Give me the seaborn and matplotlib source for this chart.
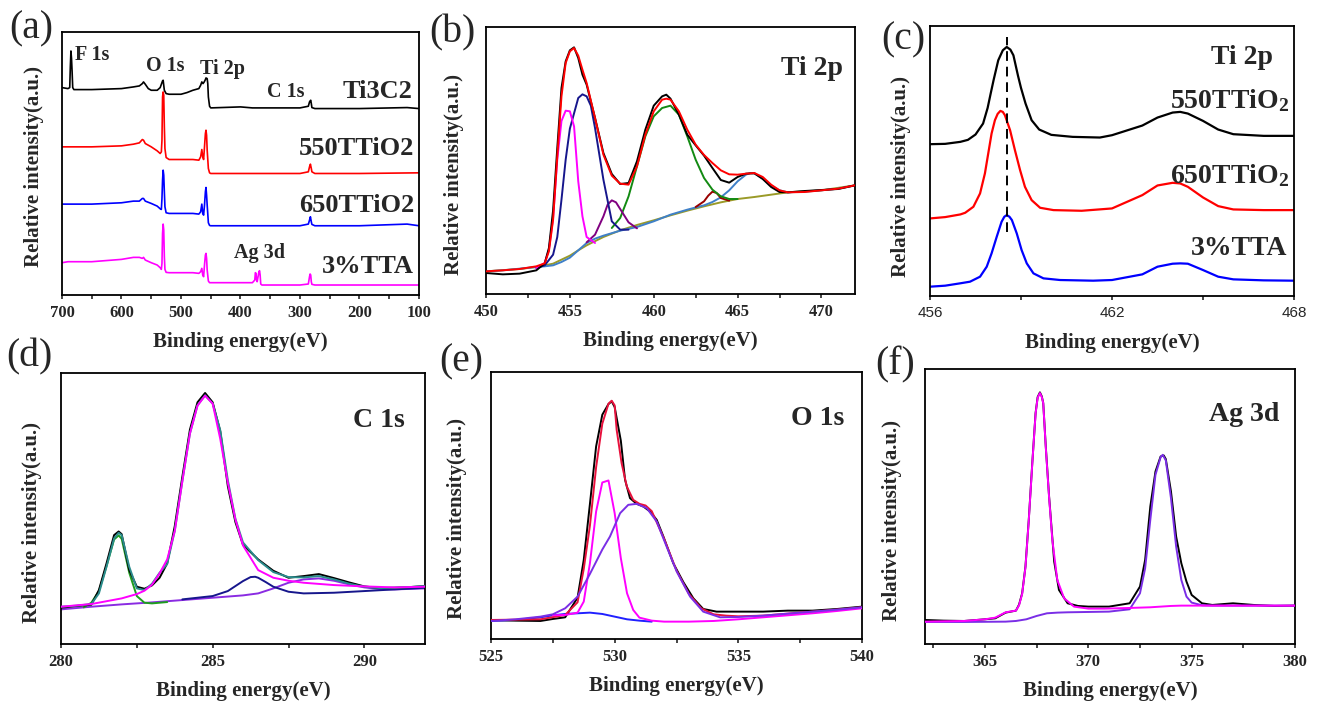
import matplotlib
matplotlib.use("Agg")
import matplotlib.pyplot as plt
import seaborn as sns

# ---------------- (a) survey spectra ----------------
A_X_TI3C2 = [700, 690, 687, 686, 685, 684, 683, 682, 680, 650, 600, 580, 570, 565, 563, 560, 555, 550, 540, 535,
             531, 530, 528, 525, 520, 500, 490, 480, 470, 467, 465, 463, 461, 459, 458, 456, 455, 454, 452, 450,
             400, 380, 300, 286, 284, 282, 281, 280, 275, 200, 120, 100]
A_Y_TI3C2 = [623, 620, 623, 685, 733, 710, 670, 623, 617, 617, 620, 625, 628, 635, 640, 633, 620, 615, 615, 623,
             643, 645, 615, 605, 603, 603, 608, 615, 620, 630, 640, 635, 640, 647, 652, 650, 635, 595, 567, 562,
             565, 562, 562, 567, 580, 585, 575, 563, 560, 560, 563, 560]
A_X_550 = [700, 650, 600, 580, 570, 565, 563, 560, 550, 540, 535, 533, 532, 531, 530, 529, 528, 527, 525, 520,
           500, 480, 470, 467, 465, 463.5, 462, 460.5, 459, 458, 457, 456, 454, 452, 450, 400, 300, 286, 284, 282.5,
           281, 280, 275, 200, 100]
A_Y_550 = [445, 445, 448, 453, 457, 467, 465, 455, 445, 433, 425, 430, 465, 595, 610, 600, 505, 440, 413, 407,
           407, 407, 405, 415, 437, 415, 407, 445, 485, 495, 480, 435, 380, 367, 365, 365, 365, 370, 385, 393,
           380, 370, 365, 365, 367]
A_X_650 = [700, 650, 600, 580, 570, 565, 563, 560, 550, 540, 535, 533, 532, 531, 530, 529, 528, 527, 525, 520,
           500, 480, 470, 467, 465, 463.5, 462, 460.5, 459, 458, 457, 456, 454, 452, 450, 400, 300, 286, 284, 282.5,
           281, 280, 275, 200, 120, 100]
A_Y_650 = [273, 273, 277, 282, 282, 290, 290, 282, 275, 267, 259, 257, 290, 345, 375, 360, 310, 265, 247, 245,
           245, 245, 243, 250, 273, 245, 240, 270, 310, 323, 300, 270, 217, 209, 208, 208, 208, 213, 225, 235,
           220, 212, 208, 208, 213, 208]
A_X_TTA = [700, 690, 650, 600, 580, 570, 565, 563, 560, 550, 540, 535, 533, 532, 531, 530, 529, 528, 527, 525,
           520, 500, 480, 470, 467, 465, 463.5, 462, 460.5, 459, 458, 457, 456, 454, 452, 450, 400, 380, 376, 375,
           374, 373, 372, 370, 369, 368, 367, 366, 364, 360, 300, 286, 284, 283, 282, 281, 280, 275, 200, 100]
A_Y_TTA = [97, 100, 100, 107, 113, 113, 110, 113, 105, 97, 90, 82, 77, 95, 185, 213, 195, 115, 77, 68,
           67, 67, 67, 65, 70, 80, 60, 55, 90, 120, 125, 110, 75, 42, 37, 37, 37, 37, 45, 67,
           65, 45, 40, 60, 70, 73, 60, 33, 30, 30, 30, 33, 55, 63, 60, 40, 32, 30, 30, 30]
A_TICKS = [700, 600, 500, 400, 300, 200, 100]
A_MINOR = [650, 550, 450, 350, 250, 150]
A_SAMPLES = ["Ti3C2", "550TTiO2", "650TTiO2", "3%TTA"]
A_PEAKS = ["F 1s", "O 1s", "Ti 2p", "C 1s", "Ag 3d"]

# ---------------- (b) Ti 2p fit ----------------
B_X = [450, 451, 452, 453, 453.5, 453.75, 454, 454.25, 454.5, 454.75, 455, 455.25, 455.5, 455.75, 456, 456.5,
       457, 457.5, 458, 458.5, 459, 459.5, 460, 460.5, 460.75, 461, 461.5, 462, 462.5, 463, 463.5, 464, 464.5,
       465, 465.5, 466, 466.5, 467, 467.5, 468, 469, 470, 471, 472]
B_RAW = [63, 59, 61, 71, 92, 138, 251, 438, 618, 698, 731, 740, 708, 658, 628, 528,
         423, 360, 330, 333, 398, 493, 565, 593, 598, 586, 538, 478, 446, 415, 378, 342, 334,
         351, 361, 362, 345, 321, 306, 305, 309, 312, 315, 326]
B_ENV = [68, 71, 75, 83, 92, 128, 223, 413, 593, 693, 728, 738, 715, 673, 633, 528,
         418, 355, 331, 328, 383, 478, 548, 583, 586, 583, 548, 493, 448, 417, 393, 371, 359,
         358, 361, 363, 351, 328, 311, 305, 306, 311, 316, 326]
B_X_MAG = [453, 453.5, 453.75, 454, 454.25, 454.5, 454.75, 455, 455.25, 455.5, 455.75, 456, 456.5]
B_Y_MAG = [78, 93, 133, 228, 404, 519, 550, 548, 503, 338, 233, 171, 153]
B_X_NAVY = [453, 453.5, 454, 454.25, 454.5, 454.75, 455, 455.5, 455.75, 456, 456.25, 456.5, 457, 457.5, 458, 458.5]
B_Y_NAVY = [78, 86, 118, 171, 283, 403, 496, 588, 599, 593, 565, 498, 343, 218, 193, 193]
B_X_PUR = [456, 456.5, 457, 457.25, 457.5, 457.75, 458, 458.5, 459]
B_Y_PUR = [155, 178, 233, 268, 281, 275, 255, 215, 197]
B_X_GRN = [457.5, 458, 458.5, 459, 459.5, 460, 460.5, 461, 461.5, 462, 462.5, 463, 463.5, 464, 464.5, 465]
B_Y_GRN = [198, 228, 293, 383, 473, 533, 558, 565, 538, 473, 403, 348, 313, 293, 285, 285]
B_X_DRED = [462.5, 463, 463.25, 463.5, 463.75, 464, 464.5]
B_Y_DRED = [261, 278, 295, 307, 303, 288, 280]
B_X_SB = [450, 451, 452, 453, 453.5, 454, 454.5, 455, 455.5, 456, 456.5, 457, 458, 459, 460, 461, 462, 463, 463.5,
          464, 464.5, 465, 465.5, 465.75, 466, 466.5, 467, 467.5, 468, 469, 470, 471, 472]
B_Y_SB = [68, 71, 76, 81, 83, 86, 96, 109, 131, 153, 166, 175, 190, 201, 218, 238, 253, 266, 276,
          290, 311, 338, 358, 363, 362, 346, 325, 311, 305, 307, 311, 316, 326]
B_X_BG = [450, 452, 453, 454, 454.5, 455, 455.5, 456, 457, 458, 459, 460, 461, 462, 463, 464, 465, 466, 467, 468,
          470, 472]
B_Y_BG = [68, 75, 81, 91, 103, 115, 131, 146, 171, 191, 207, 221, 236, 250, 263, 275, 285, 291, 298, 305,
          311, 326]
B_TICKS = [450, 455, 460, 465, 470]
B_MINOR = [452.5, 457.5, 462.5, 467.5]

# ---------------- (c) Ti 2p comparison ----------------
C_X_550 = [456, 456.5, 457, 457.25, 457.5, 457.75, 457.9, 458, 458.1, 458.25, 458.4, 458.53, 458.65, 458.75,
           458.9, 459, 459.15, 459.35, 459.6, 460, 460.7, 461.6, 462, 463, 463.5, 464, 464.25, 464.5, 465,
           465.5, 466, 467, 468]
C_Y_550 = [456, 457, 463, 469, 485, 518, 565, 608, 650, 708, 738, 748, 740, 723,
           662, 625, 578, 528, 500, 484, 478, 476, 483, 512, 536, 551, 553, 548, 526,
           500, 486, 481, 481]
C_X_650 = [456, 456.5, 457, 457.16, 457.43, 457.65, 457.81, 457.92, 458.03, 458.14, 458.23, 458.32, 458.4, 458.47,
           458.64, 458.8, 458.97, 459.13, 459.35, 459.63, 460.07, 461, 462, 463, 463.5, 464, 464.25, 464.5, 465,
           465.5, 466, 467, 468]
C_Y_650 = [233, 237, 245, 250, 268, 308, 368, 428, 488, 528, 547, 556, 553, 543,
           498, 438, 378, 328, 288, 265, 258, 256, 263, 303, 332, 340, 338, 328, 296,
           270, 260, 258, 258]
C_X_TTA = [456, 456.5, 456.99, 457.32, 457.65, 457.87, 458.03, 458.2, 458.36, 458.45, 458.53, 458.62, 458.7,
           458.86, 459.02, 459.19, 459.41, 459.74, 460.29, 461.38, 462, 463, 463.5, 464, 464.25, 464.5, 465,
           465.5, 466, 467, 468]
C_Y_TTA = [28, 31, 38, 43, 58, 88, 128, 178, 223, 238, 243, 238, 228,
           188, 138, 98, 68, 53, 48, 46, 48, 65, 88, 97, 98, 97, 78,
           58, 50, 47, 46]
C_DASH_X = [458.55, 458.55]
C_DASH_Y = [193, 778]
C_TICKS = [456, 462, 468]
C_MINOR = [459, 465]

# ---------------- (d) C 1s ----------------
D_X = [280, 280.5, 281, 281.25, 281.5, 281.75, 281.9, 282, 282.25, 282.5, 282.75, 283, 283.25, 283.5, 283.75, 284,
       284.25, 284.5, 284.75, 285, 285.25, 285.5, 285.75, 286, 286.5, 287, 287.5, 288, 288.5, 289, 289.5, 290,
       290.5, 291, 291.5, 292]
D_RAW = [109, 114, 118, 162, 242, 327, 338, 330, 222, 172, 166, 176, 199, 242, 354, 502,
         644, 726, 754, 726, 639, 474, 366, 298, 254, 220, 199, 204, 210, 198, 185, 173,
         168, 169, 171, 174]
D_ENV = [112, 115, 120, 152, 232, 317, 334, 327, 232, 167, 162, 181, 214, 240, 340, 489,
         632, 717, 747, 722, 642, 492, 376, 305, 252, 216, 201, 200, 204, 194, 181, 172,
         168, 169, 171, 174]
D_X_MAG = [280, 281, 282, 282.5, 282.75, 283, 283.25, 283.5, 283.75, 284, 284.25, 284.5, 284.75, 285, 285.25,
           285.5, 285.75, 286, 286.5, 287, 287.5, 288, 289, 290, 291, 292]
D_Y_MAG = [112, 120, 137, 150, 160, 178, 212, 254, 339, 489, 632, 716, 746, 722, 616,
           484, 374, 296, 222, 199, 190, 184, 177, 173, 170, 172]
D_X_GRN = [280.75, 281, 281.25, 281.5, 281.75, 281.9, 282, 282.25, 282.5, 282.75, 283, 283.5]
D_Y_GRN = [110, 124, 159, 234, 314, 326, 316, 214, 144, 124, 122, 126]
D_X_NAVY = [284, 285, 285.5, 285.75, 286, 286.25, 286.4, 286.5, 286.75, 287, 287.5, 288, 289, 290, 291, 292]
D_Y_NAVY = [134, 144, 159, 174, 189, 201, 202, 199, 186, 172, 157, 152, 154, 159, 164, 169]
D_X_VIO = [280, 281, 282, 283, 284, 285, 286, 286.5, 287, 287.5, 288, 288.5, 289, 289.5, 290, 290.5, 291, 292]
D_Y_VIO = [104, 112, 119, 125, 132, 139, 146, 152, 167, 184, 194, 197, 190, 179, 170, 165, 164, 167]
D_TICKS = [280, 285, 290]
D_MINOR = [282.5, 287.5]

# ---------------- (e) O 1s ----------------
E_X = [525, 526, 527, 527.5, 528, 528.5, 528.75, 529, 529.25, 529.5, 529.75, 529.88, 530, 530.25, 530.42, 530.62,
       530.89, 531.16, 531.43, 531.7, 531.97, 532.37, 532.78, 533.18, 533.58, 534.12, 535, 536, 537, 538, 539, 540]
E_RAW = [57, 55, 54, 60, 65, 124, 237, 405, 577, 672, 704, 712, 695, 594, 477, 422,
         405, 397, 382, 357, 307, 227, 170, 122, 90, 82, 82, 82, 85, 85, 90, 97]
E_X_ENV = [525, 527, 528, 528.5, 528.75, 529, 529.25, 529.5, 529.75, 529.88, 530, 530.08, 530.28, 530.49, 530.75,
           531, 531.25, 531.5, 532, 532.5, 533, 533.5, 534, 534.5, 535, 536, 537, 538, 539, 540]
E_Y_ENV = [57, 59, 72, 110, 210, 340, 515, 645, 705, 714, 700, 627, 527, 457, 417,
           405, 400, 383, 300, 205, 135, 92, 74, 70, 68, 70, 76, 82, 88, 95]
E_X_MAG = [527.5, 528, 528.5, 528.75, 529, 529.25, 529.5, 529.75, 530, 530.25, 530.5, 530.75, 531, 531.5, 532,
           533, 534, 535, 536, 537, 538, 539, 540]
E_Y_MAG = [71, 72, 79, 112, 227, 382, 469, 475, 377, 242, 137, 87, 64, 55, 52,
           52, 54, 59, 65, 71, 77, 84, 92]
E_X_VIO = [525, 526, 527, 527.5, 528, 528.5, 529, 529.5, 529.81, 530.22, 530.55, 530.89, 531.3, 531.7, 532.1,
           532.51, 533.05, 533.58, 534.26, 535, 536, 537, 538, 539, 540]
E_Y_VIO = [54, 59, 67, 74, 92, 127, 195, 268, 307, 377, 402, 405, 392, 352, 277,
           202, 127, 82, 65, 66, 70, 76, 82, 88, 95]
E_X_BLU = [525, 526, 527, 527.5, 528, 528.5, 529, 529.5, 530, 530.5, 531, 531.5]
E_Y_BLU = [54, 57, 65, 71, 75, 77, 79, 75, 67, 59, 55, 52]
E_TICKS = [525, 530, 535, 540]
E_MINOR = [527.5, 532.5, 537.5]

# ---------------- (f) Ag 3d ----------------
F_X = [362.1, 363, 364, 365, 365.5, 366, 366.5, 366.65, 366.8, 366.96, 367.12, 367.29, 367.45, 367.55, 367.66,
       367.75, 367.82, 367.94, 368.1, 368.26, 368.35, 368.58, 369, 369.5, 370, 371, 372, 372.5, 372.75, 373,
       373.25, 373.5, 373.65, 373.75, 374, 374.25, 374.5, 374.75, 375, 375.5, 376, 377, 378, 379, 380]
F_RAW = [72, 70, 69, 74, 77, 94, 100, 118, 152, 232, 372, 542, 692, 740, 754,
         742, 722, 595, 445, 318, 247, 162, 122, 114, 112, 112, 122, 172, 252, 412,
         517, 562, 565, 554, 457, 322, 242, 187, 147, 122, 117, 122, 117, 114, 115]
F_X_MAG = [362.1, 364, 365, 365.5, 366, 366.5, 366.65, 366.8, 366.96, 367.12, 367.29, 367.45, 367.55, 367.66,
           367.75, 367.82, 367.94, 368.1, 368.26, 368.5, 368.83, 369.31, 370, 370.77, 372, 373, 373.5, 374,
           374.5, 375, 376, 378, 380]
F_Y_MAG = [67, 69, 74, 79, 95, 100, 116, 150, 230, 370, 540, 690, 738, 752,
           740, 722, 592, 442, 312, 192, 137, 112, 106, 106, 108, 110, 112, 114,
           115, 115, 115, 115, 115]
F_X_VIO = [362.1, 364, 366, 366.5, 367, 367.5, 368, 368.5, 369, 370, 371, 372, 372.5, 372.75, 373, 373.25, 373.5,
           373.6, 373.75, 374, 374.25, 374.5, 374.75, 375, 375.5, 376, 378, 380]
F_Y_VIO = [66, 66, 67, 69, 74, 84, 92, 94, 95, 96, 97, 104, 152, 227, 372, 507, 560,
           567, 550, 437, 292, 192, 142, 124, 116, 115, 115, 115]
F_TICKS = [365, 370, 375, 380]
F_MINOR = [362.5, 367.5, 372.5, 377.5]

XLABEL = "Binding energy(eV)"
YLABEL = "Relative intensity(a.u.)"

# ---------------- drawing ----------------
sns.set_style("ticks")
plt.rcParams['font.family'] = ['Liberation Serif', 'DejaVu Serif']
plt.rcParams['mathtext.fontset'] = 'custom'
plt.rcParams['mathtext.rm'] = 'Liberation Serif:bold'
plt.rcParams['mathtext.bf'] = 'Liberation Serif:bold'
plt.rcParams['mathtext.it'] = 'Liberation Serif:italic:bold'

W, H = 1317, 704
fig = plt.figure(figsize=(W / 100, H / 100), dpi=100)


def make_axes(l, t, r, b):
    ax = fig.add_axes([l / W, 1 - b / H, (r - l) / W, (b - t) / H])
    return ax, (b - t)


def line(ax, x, y, color, lw=1.4, ls='-', z=2):
    sns.lineplot(x=x, y=y, ax=ax, color=color, linewidth=lw, linestyle=ls,
                 sort=False, estimator=None, legend=False, zorder=z)


def style(ax, hpx, xlim, ylim, major, minor, ylab_xy, sans_ticks=False):
    ax.set_xlim(*xlim)
    ax.set_ylim(*ylim)
    ax.set_yticks([])
    ax.set_xticks(major)
    ax.set_xticks(minor, minor=True)
    ax.set_xticklabels([str(v) for v in major])
    ax.tick_params(axis='x', which='both', direction='out', length=3, width=1.2, pad=4.5)
    for lab in ax.get_xticklabels():
        if sans_ticks:
            lab.set_fontfamily('Liberation Sans')
            lab.set_fontsize(11)
        else:
            lab.set_fontweight('bold')
            lab.set_fontsize(12)
    for s in ax.spines.values():
        s.set_visible(True)
        s.set_linewidth(1.3)
        s.set_color('black')
    ax.set_xlabel(XLABEL, fontsize=15, fontweight='bold')
    ax.xaxis.set_label_coords(0.5, -37 / hpx)
    ax.set_ylabel(YLABEL, fontsize=15, fontweight='bold')
    ax.yaxis.set_label_coords(*ylab_xy)


BOLD = dict(fontweight='bold')

# (a)
ax, h = make_axes(62, 32, 419, 295)
line(ax, A_X_TI3C2, A_Y_TI3C2, 'black', lw=1.2)
line(ax, A_X_550, A_Y_550, '#ff0000', lw=1.2)
line(ax, A_X_650, A_Y_650, '#0000ff', lw=1.2)
line(ax, A_X_TTA, A_Y_TTA, '#ff00ff', lw=1.2)
style(ax, h, (700, 100), (0, 790), A_TICKS, A_MINOR, (-0.050, 0.487))
peak_pos = [(0.037, 0.911), (0.236, 0.870), (0.386, 0.861), (0.575, 0.770), (0.481, 0.158)]
for t, (px, py) in zip(A_PEAKS, peak_pos):
    ax.text(px, py, t, transform=ax.transAxes, ha='left', va='center', fontsize=14.5, **BOLD)
samp_pos = [(0.983, 0.772), (0.986, 0.557), (0.986, 0.339), (0.986, 0.108)]
for t, (px, py) in zip(A_SAMPLES, samp_pos):
    ax.text(px, py, t, transform=ax.transAxes, ha='right', va='center', fontsize=19, **BOLD)

# (b)
ax, h = make_axes(486, 27, 855, 294)
line(ax, B_X_BG, B_Y_BG, '#9a9a28')
line(ax, B_X_SB, B_Y_SB, '#3f80c8')
line(ax, B_X_DRED, B_Y_DRED, '#990000')
line(ax, B_X_GRN, B_Y_GRN, '#128a12')
line(ax, B_X_PUR, B_Y_PUR, '#800080')
line(ax, B_X_NAVY, B_Y_NAVY, '#16168c')
line(ax, B_X_MAG, B_Y_MAG, '#ff00ff')
line(ax, B_X, B_RAW, 'black', z=3)
line(ax, B_X, B_ENV, '#ff0000', z=4)
style(ax, h, (450, 472), (0, 801), B_TICKS, B_MINOR, (-0.060, 0.446))
ax.text(0.968, 0.846, "Ti 2p", transform=ax.transAxes, ha='right', va='center', fontsize=20, **BOLD)

# (c)
ax, h = make_axes(930, 26, 1294, 296)
line(ax, C_X_550, C_Y_550, 'black', lw=1.6)
line(ax, C_X_650, C_Y_650, '#ff0000', lw=1.6)
line(ax, C_X_TTA, C_Y_TTA, '#0000ff', lw=1.6)
line(ax, C_DASH_X, C_DASH_Y, 'black', lw=1.4, ls=(0, (5, 3)), z=5)
style(ax, h, (456, 468), (0, 811), C_TICKS, C_MINOR, (-0.052, 0.444), sans_ticks=True)
ax.text(0.942, 0.885, "Ti 2p", transform=ax.transAxes, ha='right', va='center', fontsize=20, **BOLD)
ax.text(0.988, 0.725, "550TTiO$_{\\mathbf{2}}$", transform=ax.transAxes, ha='right', va='center', fontsize=20, **BOLD)
ax.text(0.988, 0.445, "650TTiO$_{\\mathbf{2}}$", transform=ax.transAxes, ha='right', va='center', fontsize=20, **BOLD)
ax.text(0.983, 0.176, "3%TTA", transform=ax.transAxes, ha='right', va='center', fontsize=20, **BOLD)

# (d)
ax, h = make_axes(61, 373, 425, 644)
line(ax, D_X_VIO, D_Y_VIO, '#8a2be2')
line(ax, D_X_NAVY, D_Y_NAVY, '#16168c')
line(ax, D_X_GRN, D_Y_GRN, '#1e9e1e')
line(ax, D_X, D_RAW, 'black', z=3)
line(ax, D_X, D_ENV, '#2a8c8c', z=4)
line(ax, D_X_MAG, D_Y_MAG, '#ff00ff', z=5)
style(ax, h, (280, 292), (0, 814), D_TICKS, D_MINOR, (-0.052, 0.45))
ax.text(0.945, 0.826, "C 1s", transform=ax.transAxes, ha='right', va='center', fontsize=20, **BOLD)

# (e)
ax, h = make_axes(491, 372, 862, 639)
line(ax, E_X_BLU, E_Y_BLU, '#2020ff')
line(ax, E_X, E_RAW, 'black', z=3)
line(ax, E_X_ENV, E_Y_ENV, '#e8103c', z=4)
line(ax, E_X_MAG, E_Y_MAG, '#ff00ff', z=5)
line(ax, E_X_VIO, E_Y_VIO, '#7a2ee6', z=6)
style(ax, h, (525, 540), (0, 800), E_TICKS, E_MINOR, (-0.065, 0.45))
ax.text(0.951, 0.824, "O 1s", transform=ax.transAxes, ha='right', va='center', fontsize=20, **BOLD)

# (f)
ax, h = make_axes(925, 369, 1295, 644)
line(ax, F_X, F_RAW, 'black', z=3)
line(ax, F_X_VIO, F_Y_VIO, '#7a2ee6', z=4)
line(ax, F_X_MAG, F_Y_MAG, '#ff00ff', z=5)
style(ax, h, (362.1, 380), (0, 824), F_TICKS, F_MINOR, (-0.062, 0.45))
ax.text(0.959, 0.834, "Ag 3d", transform=ax.transAxes, ha='right', va='center', fontsize=20, **BOLD)

# panel letters
for lab, x, y in [("(a)", 9, 29), ("(b)", 429, 33), ("(c)", 881, 40),
                  ("(d)", 6, 357), ("(e)", 439, 362), ("(f)", 875, 365)]:
    fig.text(x / W, 1 - y / H, lab, ha='left', va='center', fontsize=28.5)

fig.savefig("out.png", dpi=100)
